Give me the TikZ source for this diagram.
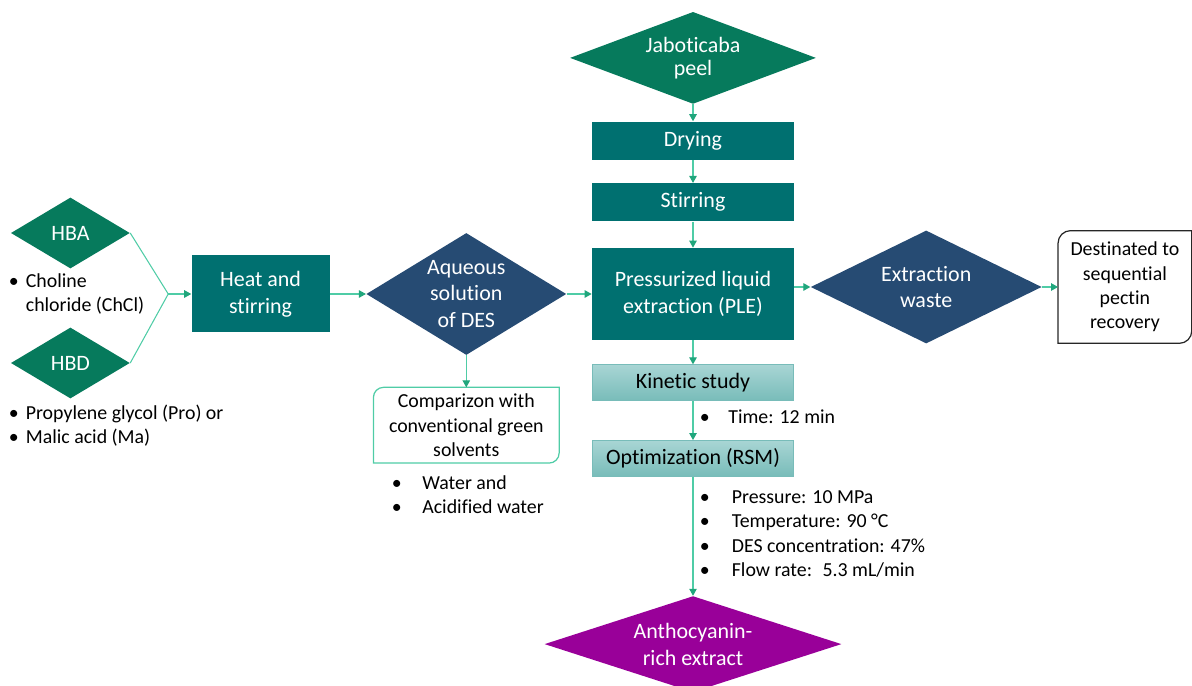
\documentclass[tikz,border=0pt]{standalone}
\usepackage{fontspec}
\setmainfont{Carlito}[Ligatures=NoCommon]
\usepackage{xcolor}
\usetikzlibrary{positioning,arrows.meta,shapes.geometric,calc}

\definecolor{leafgreen}{HTML}{067A5C}
\definecolor{tealbox}{HTML}{007070}
\definecolor{navy}{HTML}{264B73}
\definecolor{plum}{HTML}{990099}
\definecolor{mint}{HTML}{4FCCA6}
\definecolor{arrowgreen}{HTML}{20A67C}
\definecolor{lightteal}{HTML}{A8D5D4}
\definecolor{midteal}{HTML}{78BCB9}

\newcommand{\bitem}[1]{\makebox[#1][l]{\textbullet}}

\begin{document}
\begin{tikzpicture}[
  node distance=5mm and 5mm,
  txt/.style={font=\fontsize{12.5}{15.3}\selectfont, align=center},
  dia/.style={txt, diamond, inner sep=-4pt, text=white, fill=#1},
  box/.style={txt, rectangle, inner sep=0pt, text=white, fill=tealbox, minimum width=4.04cm},
  stepbox/.style={txt, rectangle, inner sep=0pt, minimum width=4.02cm, minimum height=0.72cm, draw=midteal, top color=lightteal, bottom color=midteal},
  frame/.style={font=\fontsize{11.3}{13.9}\selectfont, align=center, inner sep=0pt},
  note/.style={font=\fontsize{11.3}{13.9}\selectfont, align=left, inner sep=0pt, anchor=north west},
  arr/.style={-{Triangle[length=1.4mm, width=1.5mm, color=arrowgreen]}, draw=mint, line width=0.6pt},
  line/.style={draw=mint, line width=0.6pt}
]
\useasboundingbox (0,0) rectangle (23.84,-13.72);

% main column
\node[box, minimum height=1.84cm] (ple) at (13.86,-5.88) {Pressurized liquid\\extraction (PLE)};
\node[box, minimum height=0.76cm, above=0.52cm of ple] (stir) {Stirring};
\node[box, minimum height=0.76cm, above=0.46cm of stir] (dry) {Drying};
\node[dia=leafgreen, shape aspect=2.67, minimum width=4.92cm, minimum height=1.84cm, above=0.34cm of dry] (peel) {\raisebox{-2pt}{Jaboticaba}\\peel};
\node[stepbox, below=0.48cm of ple] (kin) {Kinetic study};
\node[stepbox, below=0.78cm of kin] (rsm) {Optimization (RSM)};
\node[dia=plum, shape aspect=3.09, minimum width=5.94cm, minimum height=1.92cm, below=2.38cm of rsm] (anth) {Anthocyanin-\\rich extract};

% right side
\node[dia=navy, shape aspect=2.04, minimum width=4.62cm, minimum height=2.26cm, right=0.32cm of ple, yshift=0.14cm] (waste) {Extraction\\waste};
\node[frame, minimum width=2.66cm, minimum height=2.24cm, right=0.32cm of waste] (dest) {Destinated to\\sequential\\pectin\\recovery};

% left side
\node[dia=navy, shape aspect=1.64, minimum width=4cm, minimum height=2.44cm, left=0.5cm of ple] (des) {Aqueous\\solution\\of DES};
\node[box, minimum width=2.76cm, minimum height=1.54cm, left=0.72cm of des] (heat) {Heat and\\stirring};
\coordinate[left=0.46cm of heat] (mix);
\node[dia=leafgreen, shape aspect=1.68, minimum width=2.38cm, minimum height=1.42cm, left=1.22cm of heat, yshift=1.22cm] (hba) {HBA};
\node[dia=leafgreen, shape aspect=1.68, minimum width=2.38cm, minimum height=1.42cm, left=1.22cm of heat, yshift=-1.38cm] (hbd) {HBD};
\node[frame, minimum width=3.7cm, minimum height=1.5cm, below=0.64cm of des] (cmp) {Comparizon with\\conventional green\\solvents};

% bullet notes
\node[note] (chl) at (0.17,-5.40) {\strut\bitem{0.34cm}Choline\\\hspace*{0.34cm}chloride (ChCl)};
\node[note] (don) at (0.17,-8.04) {\strut\bitem{0.34cm}Propylene glycol (Pro) or\\\bitem{0.34cm}Malic acid (Ma)};
\node[note] (wat) at (7.83,-9.44) {\strut\bitem{0.61cm}Water and\\\bitem{0.61cm}Acidified water};
\node[note] (tim) at (13.99,-8.12) {\strut\bitem{0.57cm}Time: 12 min};
\node[note] (cond) at (13.99,-9.72) {\strut\bitem{0.64cm}Pressure: 10 MPa\\\bitem{0.64cm}Temperature: 90 °C\\\bitem{0.64cm}DES concentration: 47\%\\\bitem{0.64cm}Flow rate:~ 5.3 mL/min};

% frames with two rounded corners
\draw[mint, line width=0.7pt] (cmp.north east) -- ([xshift=0.2cm]cmp.north west) arc[start angle=90, end angle=180, radius=0.2cm] -- (cmp.south west) -- ([xshift=-0.2cm]cmp.south east) arc[start angle=270, end angle=360, radius=0.2cm] -- cycle;
\draw[black!85, line width=0.7pt] (dest.north east) -- ([xshift=0.25cm]dest.north west) arc[start angle=90, end angle=180, radius=0.25cm] -- (dest.south west) -- ([xshift=-0.25cm]dest.south east) arc[start angle=270, end angle=360, radius=0.25cm] -- cycle;

% connectors
\draw[arr] (peel) -- (dry);
\draw[arr] (dry) -- (stir);
\draw[arr] (stir) -- (ple);
\draw[arr] (ple) -- (kin);
\draw[arr] (kin) -- (rsm);
\draw[arr] (rsm) -- (anth);
\draw[arr] (waste.west -| ple.east) -- (waste.west);
\draw[arr] (waste) -- (dest);
\draw[arr] (heat) -- (des);
\draw[arr] (des) -- (ple);
\draw[arr] (des) -- (cmp);
\draw[line] (hba.east) -- (mix);
\draw[line] (hbd.east) -- (mix);
\draw[arr] (mix) -- (heat);
\end{tikzpicture}
\end{document}
